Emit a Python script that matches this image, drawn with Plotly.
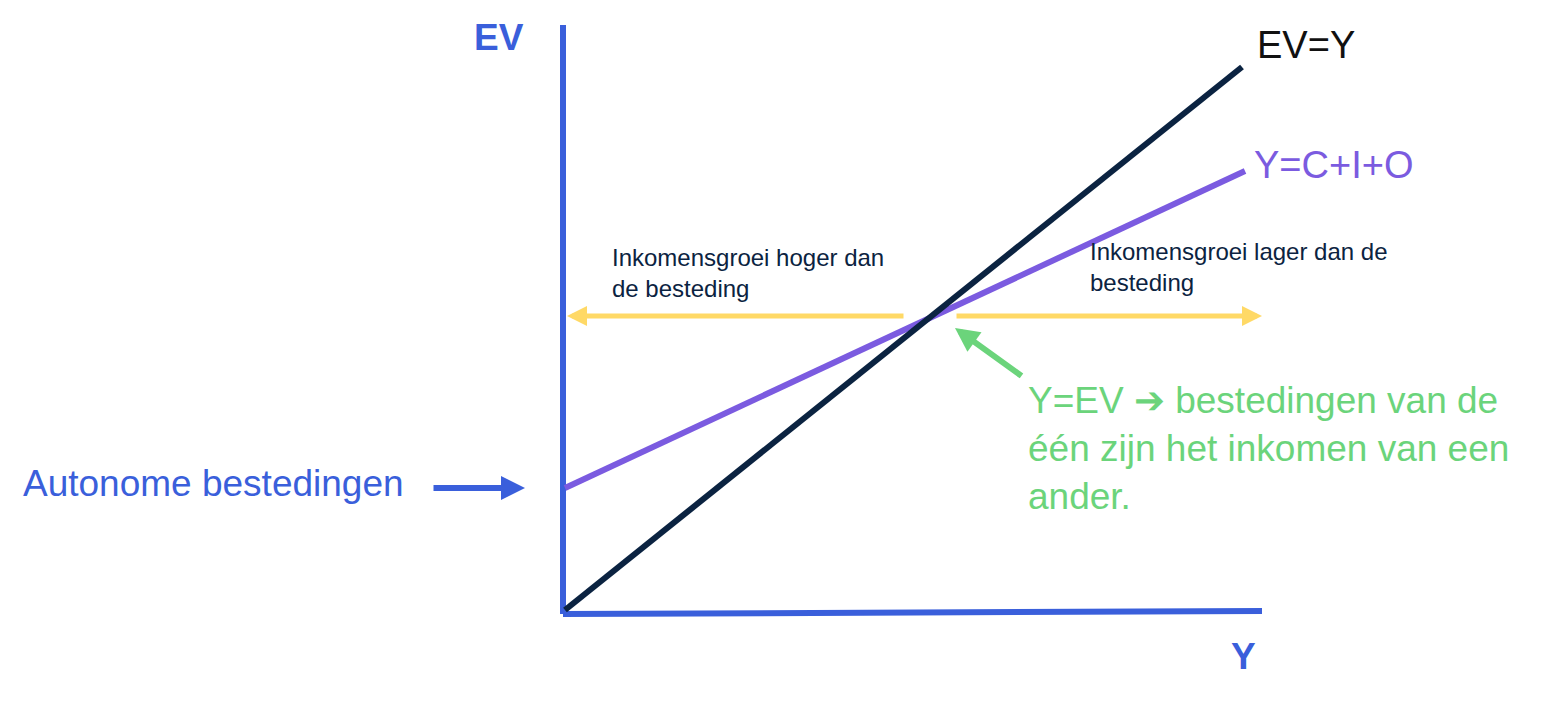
import plotly.graph_objects as go

# diagram coordinates (pixel-like units, y grows downward)
axis_v_x = [563, 563]
axis_v_y = [25, 614]
axis_h_x = [563, 1262]
axis_h_y = [614, 611]
ev_y_x = [565, 1242]
ev_y_y = [610, 67]
cio_x = [565, 1245]
cio_y = [488, 171]

BLUE = '#3A5FDB'
NAVY = '#0B2341'
PURPLE = '#7B5BE0'
YELLOW = '#FFD966'
GREEN = '#6BD47B'
FONT = 'Liberation Sans, Arial'

fig = go.Figure()
fig.add_trace(go.Scatter(x=axis_v_x, y=axis_v_y, mode='lines', line=dict(color=BLUE, width=6)))
fig.add_trace(go.Scatter(x=axis_h_x, y=axis_h_y, mode='lines', line=dict(color=BLUE, width=6)))
fig.add_trace(go.Scatter(x=cio_x, y=cio_y, mode='lines', line=dict(color=PURPLE, width=6)))
fig.add_trace(go.Scatter(x=ev_y_x, y=ev_y_y, mode='lines', line=dict(color=NAVY, width=6)))

def arrow(x0, y0, x1, y1, color, width):
    fig.add_annotation(x=x1, y=y1, ax=x0, ay=y0, xref='x', yref='y', axref='x', ayref='y',
                       text='', showarrow=True, arrowhead=2, arrowsize=0.8,
                       arrowwidth=width, arrowcolor=color)

arrow(905, 316, 567, 316, YELLOW, 5)
arrow(955, 316, 1262, 316, YELLOW, 5)
arrow(1023, 377, 955, 328, GREEN, 6)
arrow(432, 488, 525, 488, BLUE, 6)

def label(x, y, text, color, size, bold=False):
    if bold:
        text = '<b>' + text + '</b>'
    fig.add_annotation(x=x, y=y, xref='x', yref='y', text=text, showarrow=False,
                       xanchor='left', yanchor='middle', align='left',
                       font=dict(family=FONT, size=size, color=color))

label(472, 37, 'EV', BLUE, 37, True)
label(1229, 656, 'Y', BLUE, 37, True)
label(1255, 45, 'EV=Y', '#111111', 38)
label(1252, 165, 'Y=C+I+O', PURPLE, 38)
label(610, 273, 'Inkomensgroei hoger dan<br>de besteding', NAVY, 24)
label(1088, 267, 'Inkomensgroei lager dan de<br>besteding', NAVY, 24)
label(1026, 448, 'Y=EV ➔ bestedingen van de<br>één zijn het inkomen van een<br>ander.', GREEN, 37)
label(21, 483, 'Autonome bestedingen', BLUE, 37)

fig.update_layout(width=1550, height=701, margin=dict(l=0, r=0, t=0, b=0),
                  showlegend=False, plot_bgcolor='white', paper_bgcolor='white')
fig.update_xaxes(range=[8, 1558], visible=False)
fig.update_yaxes(range=[709, 8], visible=False)
fig.write_html('out.html')
